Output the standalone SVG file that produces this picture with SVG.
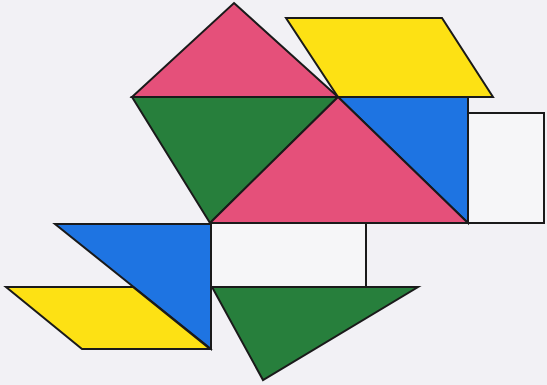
<svg xmlns="http://www.w3.org/2000/svg" width="547" height="385" viewBox="0 0 547 385">
<style>
.s{stroke:#1a1a1a;stroke-width:2;stroke-linejoin:miter}
.pink{fill:#e5507a}
.green{fill:#277f3c}
.blue{fill:#1e74e2}
.yellow{fill:#fde114}
.white{fill:#f6f6f8}
.ln{fill:none;stroke:#1a1a1a;stroke-width:1.5}
</style>
<rect x="0" y="0" width="547" height="385" fill="#f2f1f5"/>
<g id="rect-right"><rect class="s white" x="468" y="113" width="76" height="110"/></g>
<g id="rect-middle"><rect class="s white" x="211" y="223" width="155" height="64"/></g>
<g id="pink-top"><polygon class="s pink" points="234,3 338,97 132,97"/></g>
<g id="yellow-top"><polygon class="s yellow" points="286,18 442,18 493,97 338,97"/></g>
<g id="green-mid"><polygon class="s green" points="132,97 338,97 210,223"/></g>
<g id="blue-right"><polygon class="s blue" points="338,97 468,97 468,223"/></g>
<g id="pink-big"><polygon class="s pink" points="338,97 468,223 210,223"/></g>
<g id="blue-left"><polygon class="s blue" points="55,224 211,224 211,349"/></g>
<g id="yellow-left"><polygon class="s yellow" points="6,287 133,287 210,349 82,349"/></g>
<g id="green-bottom"><polygon class="s green" points="212,287 418,287 263,380"/></g>
</svg>
